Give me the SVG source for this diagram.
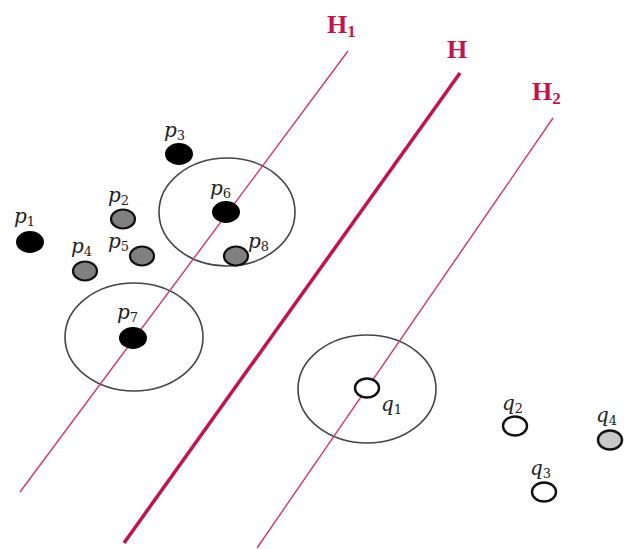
<svg xmlns="http://www.w3.org/2000/svg" width="630" height="549" viewBox="0 0 630 549">
<style>
.lbl{font-family:"DejaVu Serif","Liberation Serif",serif;font-style:italic;font-size:20px;fill:#222}
.sub{font-size:13px;font-style:normal}
.hl{font-family:"Liberation Serif","DejaVu Serif",serif;font-weight:bold;font-size:26px;fill:#c2134f}
.hsub{font-size:17px}
.ring{fill:none;stroke:#444;stroke-width:1.6}
.blk{fill:#000;stroke:#000;stroke-width:2}
.gry{fill:#808080;stroke:#111;stroke-width:2.2}
.wht{fill:#fff;stroke:#111;stroke-width:2.4}
.lgt{fill:#c8c8c8;stroke:#111;stroke-width:2.4}
</style>
<rect width="630" height="549" fill="#fff"/>
<g id="rings">
<ellipse class="ring" cx="227" cy="212" rx="68" ry="54"/>
<ellipse class="ring" cx="134" cy="337" rx="69" ry="54"/>
<ellipse class="ring" cx="367" cy="389" rx="69" ry="54"/>
</g>
<g id="connectors">
<line x1="348" y1="51" x2="20" y2="492" stroke="#d4356b" stroke-width="1.4"/>
<line x1="460" y1="73" x2="124" y2="543" stroke="#c2134f" stroke-width="3.5"/>
<line x1="553" y1="118" x2="257" y2="548" stroke="#d4356b" stroke-width="1.4"/>
</g>
<g id="H1"><text class="hl" x="327" y="33">H<tspan class="hsub" dy="4">1</tspan></text></g>
<g id="H"><text class="hl" x="447" y="58">H</text></g>
<g id="H2"><text class="hl" x="532" y="100">H<tspan class="hsub" dy="4">2</tspan></text></g>
<g id="p1"><ellipse class="blk" cx="30" cy="242" rx="13" ry="10"/><text class="lbl" x="14" y="223">p<tspan class="sub" dy="3">1</tspan></text></g>
<g id="p2"><ellipse class="gry" cx="123" cy="219" rx="12" ry="9.5"/><text class="lbl" x="108" y="202">p<tspan class="sub" dy="3">2</tspan></text></g>
<g id="p3"><ellipse class="blk" cx="179" cy="154" rx="13" ry="10"/><text class="lbl" x="164" y="137">p<tspan class="sub" dy="3">3</tspan></text></g>
<g id="p4"><ellipse class="gry" cx="85" cy="271" rx="12" ry="9.5"/><text class="lbl" x="71" y="253">p<tspan class="sub" dy="3">4</tspan></text></g>
<g id="p5"><ellipse class="gry" cx="142" cy="256" rx="12" ry="9.5"/><text class="lbl" x="108" y="248">p<tspan class="sub" dy="3">5</tspan></text></g>
<g id="p6"><ellipse class="blk" cx="226" cy="212" rx="13" ry="10"/><text class="lbl" x="210" y="195">p<tspan class="sub" dy="3">6</tspan></text></g>
<g id="p7"><ellipse class="blk" cx="133" cy="338" rx="13" ry="10"/><text class="lbl" x="117" y="319">p<tspan class="sub" dy="3">7</tspan></text></g>
<g id="p8"><ellipse class="gry" cx="236" cy="256" rx="12" ry="9.5"/><text class="lbl" x="248" y="248">p<tspan class="sub" dy="3">8</tspan></text></g>
<g id="q1"><ellipse class="wht" cx="367" cy="388" rx="12" ry="9.5"/><text class="lbl" x="381" y="411">q<tspan class="sub" dy="3">1</tspan></text></g>
<g id="q2"><ellipse class="wht" cx="515" cy="426" rx="12" ry="9.5"/><text class="lbl" x="502" y="410">q<tspan class="sub" dy="3">2</tspan></text></g>
<g id="q3"><ellipse class="wht" cx="544" cy="492" rx="12" ry="9.5"/><text class="lbl" x="530" y="475">q<tspan class="sub" dy="3">3</tspan></text></g>
<g id="q4"><ellipse class="lgt" cx="610" cy="440" rx="12" ry="9.5"/><text class="lbl" x="596" y="422">q<tspan class="sub" dy="3">4</tspan></text></g>
</svg>
